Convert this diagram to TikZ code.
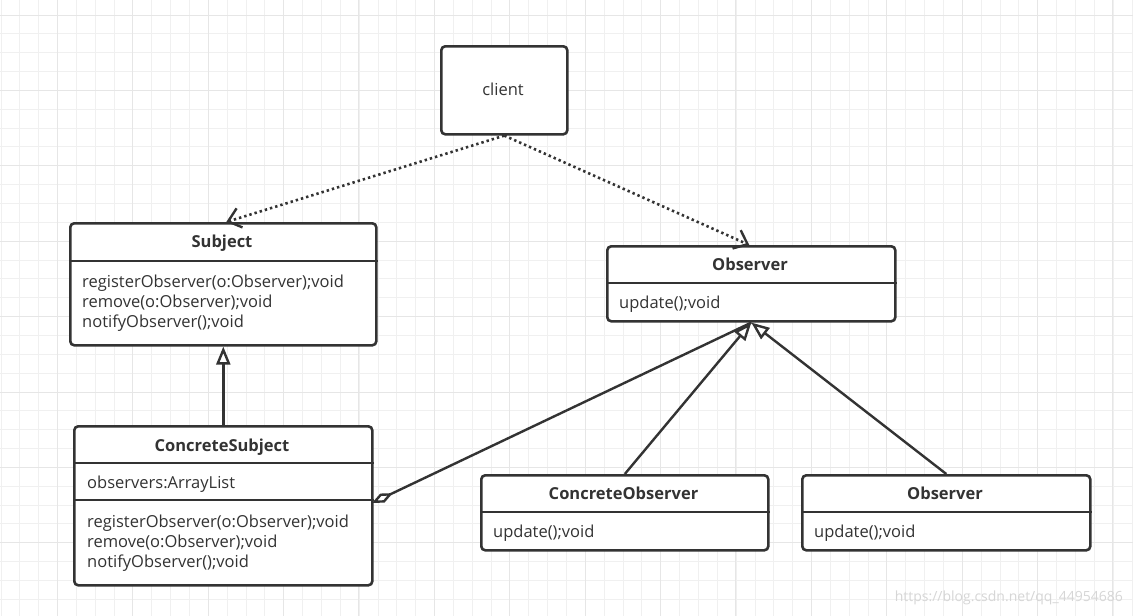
\documentclass[tikz,border=0pt]{standalone}
\usepackage{fontspec}
\setmainfont{Open Sans}
\usetikzlibrary{arrows.meta,calc}
\definecolor{linec}{HTML}{333333}
\definecolor{gridminor}{HTML}{F0F0F0}
\definecolor{gridmajor}{HTML}{E6E6E6}
\definecolor{wmark}{HTML}{D6D6D6}
\begin{document}
\begin{tikzpicture}[x=1pt,y=-1pt,
  box/.style={draw=linec, line width=2.6pt, rounded corners=4pt, fill=white, inner sep=0pt, anchor=north west},
  sepline/.style={draw=linec, line width=2.4pt},
  title/.style={font=\fontsize{16.5}{19}\selectfont\bfseries, text=linec, inner sep=0pt, anchor=mid},
  plain/.style={font=\fontsize{16.5}{19}\selectfont, text=linec, inner sep=0pt, anchor=mid},
  member/.style={font=\fontsize{16.5}{19}\selectfont, text=linec, inner sep=0pt, anchor=mid west},
  dep/.style={draw=linec, line width=2.6pt, dash pattern=on 2.4pt off 3pt, -{Straight Barb[length=12pt,width=20pt,line width=2.4pt]}},
  inherit/.style={draw=linec, line width=2.4pt, -{Triangle[open,length=18pt,width=14pt,fill=white]}},
  aggr/.style={draw=linec, line width=2.4pt, {Diamond[open,length=23pt,width=10pt,fill=white]}-}
]
% background and grid
\fill[white] (0,0) rectangle (1133,616);
\useasboundingbox (0,0) rectangle (1133,616);
\foreach \i in {0,...,60} {\draw[gridminor, line width=1pt] ({1+18.85*\i},0) -- ({1+18.85*\i},616);}
\foreach \i in {0,...,33} {\draw[gridminor, line width=1pt] (0,{15+18.85*\i}) -- (1133,{15+18.85*\i});}
\foreach \i in {0,...,14} {\draw[gridmajor, line width=1pt] ({57.3+75.4*\i},0) -- ({57.3+75.4*\i},616);}
\foreach \i in {0,...,8} {\draw[gridmajor, line width=1pt] (0,{15+75.4*\i}) -- (1133,{15+75.4*\i});}

% watermark
\node[font=\fontsize{14}{16}\selectfont, text=wmark, inner sep=0pt, anchor=mid east] (wm) at (1123,599) {https://blog.csdn.net/qq\_44954686};

% client
\node[box, minimum width=126pt, minimum height=88pt] (client) at (440,45) {};
\node[plain] (clientt) at (503,93) {client};

% Subject
\node[box, minimum width=306pt, minimum height=122pt] (subj) at (69,222) {};
\draw[sepline] (subj.west |- 0,261) -- (subj.east |- 0,261);
\node[title] (subjt) at (222,245) {Subject};
\node[member] (subjm1) at (82,285) {registerObserver(o:Observer);void};
\node[member] (subjm2) at (82,305) {remove(o:Observer);void};
\node[member] (subjm3) at (82,325) {notifyObserver();void};

% Observer (top)
\node[box, minimum width=288pt, minimum height=75pt] (obs) at (606,245) {};
\draw[sepline] (obs.west |- 0,283) -- (obs.east |- 0,283);
\node[title] (obst) at (750,268) {Observer};
\node[member] (obsm1) at (619,306) {update();void};

% ConcreteSubject
\node[box, minimum width=298pt, minimum height=159pt] (cs) at (73,425) {};
\draw[sepline] (cs.west |- 0,463) -- (cs.east |- 0,463);
\draw[sepline] (cs.west |- 0,500) -- (cs.east |- 0,500);
\node[title] (cst) at (222,449) {ConcreteSubject};
\node[member] (csa1) at (87,486) {observers:ArrayList};
\node[member] (csm1) at (87,525) {registerObserver(o:Observer);void};
\node[member] (csm2) at (87,545) {remove(o:Observer);void};
\node[member] (csm3) at (87,565) {notifyObserver();void};

% ConcreteObserver
\node[box, minimum width=287pt, minimum height=75pt] (co) at (480,474) {};
\draw[sepline] (co.west |- 0,512) -- (co.east |- 0,512);
\node[title] (cot) at (623.5,497) {ConcreteObserver};
\node[member] (com1) at (493,535) {update();void};

% Observer (right)
\node[box, minimum width=288pt, minimum height=75pt] (ro) at (801,474) {};
\draw[sepline] (ro.west |- 0,512) -- (ro.east |- 0,512);
\node[title] (rot) at (945,497) {Observer};
\node[member] (rom1) at (814,535) {update();void};

% connectors
\draw[dep] (client.south) -- ($(subj.north)+(3,0)$);
\draw[dep] (client.south) -- ($(obs.north)+(-2,0)$);
\draw[inherit] (cs.north) -- (subj.south);
\coordinate (aggst) at (372,503);
\draw[aggr] (aggst) -- (obs.south);
\draw[inherit] (co.north) -- (obs.south);
\draw[inherit] (ro.north) -- (obs.south);
\end{tikzpicture}
\end{document}
